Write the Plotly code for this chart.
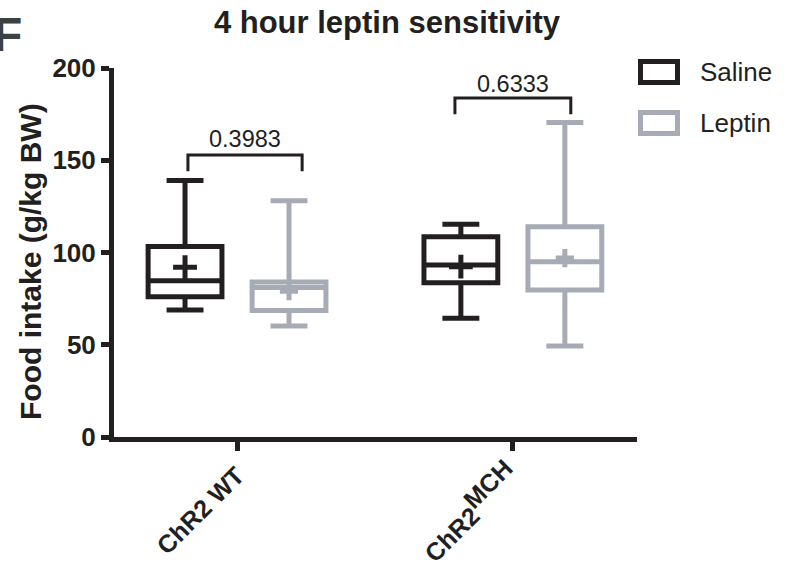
import plotly.graph_objects as go

# ---------------- data ----------------
categories = ["ChR2 WT", "ChR2<sup><span style='font-size:25px'>MCH</span></sup>"]
series_names = ["Saline", "Leptin"]

saline_lower = [68.8, 64.3]
saline_q1 = [76.0, 83.6]
saline_median = [84.7, 93.2]
saline_q3 = [103.3, 108.6]
saline_upper = [139.0, 115.3]
saline_mean = [92.0, 92.3]

leptin_lower = [60.2, 49.3]
leptin_q1 = [68.6, 79.7]
leptin_median = [81.0, 95.0]
leptin_q3 = [84.0, 114.0]
leptin_upper = [128.0, 170.4]
leptin_mean = [79.0, 97.0]

p_values = ["0.3983", "0.6333"]
bracket_top = [152.8, 183.7]
bracket_foot = [144.0, 175.0]
p_label_y = [161.5, 191.5]

y_ticks = [0, 50, 100, 150, 200]

# ---------------- style ----------------
BLACK = "#231f20"
GREY = "#a6abb5"
FONT = "Liberation Sans, Arial, sans-serif"
W, H = 786, 572
# plot-area edges, in page pixels
L, R, T, B = 114, 637, 68, 437
BOXGAP = 0.246
GROUPGAP = 0.29


def px_x(p):
    """page pixel x -> paper x"""
    return (p - L) / (R - L)


def px_y(p):
    """page pixel y -> paper y"""
    return (B - p) / (B - T)


fig = go.Figure()

for name, color, lo, q1, med, q3, up in [
    ("Saline", BLACK, saline_lower, saline_q1, saline_median, saline_q3, saline_upper),
    ("Leptin", GREY, leptin_lower, leptin_q1, leptin_median, leptin_q3, leptin_upper),
]:
    fig.add_trace(go.Box(
        name=name, x=categories, lowerfence=lo, q1=q1, median=med, q3=q3, upperfence=up,
        offsetgroup=name, alignmentgroup="a",
        boxpoints=False, fillcolor="white",
        line=dict(color=color, width=5), whiskerwidth=0.5,
        showlegend=False, hoverinfo="skip",
    ))

for name, color, mean, size in [("Saline", BLACK, saline_mean, 17), ("Leptin", GREY, leptin_mean, 13)]:
    fig.add_trace(go.Scatter(
        x=categories, y=mean, mode="markers", offsetgroup=name, alignmentgroup="a",
        marker=dict(symbol="cross-thin", size=size, line=dict(color=color, width=5)),
        showlegend=False, hoverinfo="skip",
    ))

shapes = []
annotations = []
bracket_offsets = [(-0.178, 0.236), (-0.21, 0.21)]
for i, (pv, top, foot, ly) in enumerate(zip(p_values, bracket_top, bracket_foot, p_label_y)):
    x0 = i + bracket_offsets[i][0]
    x1 = i + bracket_offsets[i][1]
    shapes.append(dict(type="path", xref="x", yref="y",
                       path=f"M {x0},{foot} L {x0},{top} L {x1},{top} L {x1},{foot}",
                       line=dict(color=BLACK, width=3)))
    annotations.append(dict(x=(x0 + x1) / 2, y=ly, xref="x", yref="y", text=pv,
                            showarrow=False, font=dict(family=FONT, size=23.5, color=BLACK)))

# legend (drawn)
for j, (name, color) in enumerate([("Saline", BLACK), ("Leptin", GREY)]):
    yc = 72 + j * 51
    shapes.append(dict(type="rect", xref="paper", yref="paper",
                       x0=px_x(640.5), x1=px_x(677.5), y0=px_y(yc - 10.5), y1=px_y(yc + 10.5),
                       line=dict(color=color, width=5), fillcolor="white"))
    annotations.append(dict(x=px_x(698), y=px_y(yc), xref="paper", yref="paper", text=name,
                            xanchor="left", yanchor="middle", showarrow=False,
                            font=dict(family=FONT, size=26, color=BLACK)))

# y-axis title
annotations.append(dict(x=px_x(30), y=px_y(262), xref="paper", yref="paper",
                        text="<b>Food intake (g/kg BW)</b>", textangle=-90, showarrow=False,
                        xanchor="center", yanchor="middle",
                        font=dict(family=FONT, size=30, color=BLACK)))
# panel letter (cropped at the left edge, as in the reference)
annotations.append(dict(x=px_x(-9), y=px_y(6), xref="paper", yref="paper", text="<b>F</b>",
                        xanchor="left", yanchor="top", showarrow=False,
                        font=dict(family=FONT, size=48, color="#3c4242")))

fig.update_layout(
    width=W, height=H,
    margin=dict(l=L, r=W - R, t=T, b=H - B, pad=0),
    paper_bgcolor="white", plot_bgcolor="white",
    boxmode="group", boxgap=BOXGAP, boxgroupgap=GROUPGAP,
    scattermode="group", scattergap=BOXGAP,
    title=dict(text="<b>4 hour leptin sensitivity</b>", x=px_x(387), xref="paper", xanchor="center",
               y=1 - 22 / H, yanchor="middle", font=dict(family=FONT, size=31, color=BLACK)),
    shapes=shapes, annotations=annotations,
    font=dict(family=FONT, color=BLACK),
    hovermode=False,
)
fig.update_xaxes(
    type="category", categoryorder="array", categoryarray=categories,
    range=[-0.446, 1.45], showline=True, linecolor=BLACK, linewidth=5,
    ticks="outside", ticklen=9, tickwidth=5, tickcolor=BLACK, tickangle=-45,
    tickfont=dict(family=FONT, size=25, color=BLACK, weight="bold"),
    showgrid=False, zeroline=False, automargin=False,
)
fig.update_yaxes(
    range=[0, 200], tickvals=y_ticks, showline=True, linecolor=BLACK, linewidth=5,
    ticks="outside", ticklen=8, tickwidth=5, tickcolor=BLACK,
    tickfont=dict(family=FONT, size=26, color=BLACK, weight="bold"),
    showgrid=False, zeroline=False, automargin=False,
)

# the page's default 8px body margin would shift the figure; remove it
fig.write_html("out.html", config={"displayModeBar": False, "staticPlot": True},
               post_script="document.body.style.margin='0px';")
